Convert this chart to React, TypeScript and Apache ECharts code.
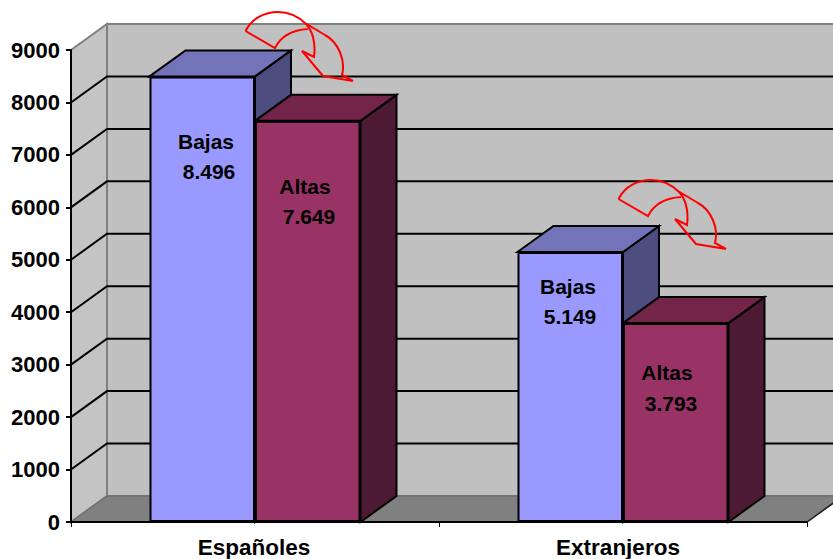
import React, { useEffect, useRef } from "react";
import * as echarts from "echarts";

const categories = ["Españoles", "Extranjeros"];
const bajasValues = [8496, 5149];
const altasValues = [7649, 3793];
const gridValues = [1000, 2000, 3000, 4000, 5000, 6000, 7000, 8000];
const seriesNames = ["Bajas", "Altas"];

const FONT = '"Liberation Sans", Arial, sans-serif';
const DX = 36;
const DY = 26;
const BAR_W = 105.5;

const arrowPath =
  "M245.5 31 C252 18 265 12 278 12 C290 12 300 18 306 24 C312 30 316 42 314 57 L302 51 L323 76 L353 81 L342 75 C346 60 338 42 325 35 L305 23 M245.5 31 L275 48 C281 36 292 30 308 29";
echarts.graphic.registerShape("curvedArrow", echarts.graphic.extendPath(arrowPath, {}));

const fmt = (v: number) => {
  const s = String(v);
  return s.slice(0, -3) + "." + s.slice(-3);
};

function wallsRender(params: any, api: any) {
  const cs = params.coordSys;
  const x0 = cs.x;
  const x1 = cs.x + cs.width;
  const yb = cs.y + cs.height;
  const yt = cs.y;
  const edge = "#808080";
  return {
    type: "group",
    children: [
      {
        type: "polygon",
        shape: { points: [[x0 + DX, yt - DY], [x1 + DX, yt - DY], [x1 + DX, yb - DY], [x0 + DX, yb - DY]] },
        style: { fill: "#c0c0c0", stroke: edge, lineWidth: 2 },
      },
      {
        type: "polygon",
        shape: { points: [[x0, yt], [x0 + DX, yt - DY], [x0 + DX, yb - DY], [x0, yb]] },
        style: { fill: "#c4c4c4", stroke: edge, lineWidth: 2 },
      },
      {
        type: "polygon",
        shape: { points: [[x0, yb], [x0 + DX, yb - DY], [x1 + DX, yb - DY], [x1, yb]] },
        style: { fill: "#808080", stroke: "#707070", lineWidth: 1.5 },
      },
      {
        type: "line",
        shape: { x1: x1, y1: yb, x2: x1 + DX, y2: yb - DY },
        style: { stroke: "#222", lineWidth: 1.5 },
      },
    ],
  };
}

function gridRender(params: any, api: any) {
  const cs = params.coordSys;
  const y = api.coord([0, api.value(0)])[1];
  return {
    type: "polyline",
    shape: {
      points: [
        [cs.x, y],
        [cs.x + DX, y - DY],
        [cs.x + cs.width + DX, y - DY],
      ],
    },
    style: { fill: "none", stroke: "#000", lineWidth: 2 },
  };
}

const faceRender = (slot: number, topColor: string, sideColor: string) => (params: any, api: any) => {
  const i = api.value(0);
  const [cx, top] = api.coord([i, api.value(1)]);
  const base = api.coord([i, 0])[1];
  const left = cx + (slot - 1) * BAR_W;
  const right = left + BAR_W;
  const style = (fill: string) => ({ fill, stroke: "#000", lineWidth: 2 });
  return {
    type: "group",
    children: [
      {
        type: "polygon",
        shape: { points: [[right, top], [right + DX, top - DY], [right + DX, base - DY], [right, base]] },
        style: style(sideColor),
      },
      {
        type: "polygon",
        shape: { points: [[left, top], [left + DX, top - DY], [right + DX, top - DY], [right, top]] },
        style: style(topColor),
      },
    ],
  };
};

const labelSpots = [
  { name: 0, value: bajasValues[0], nx: 206, ny: 141, vx: 209, vy: 171 },
  { name: 1, value: altasValues[0], nx: 305, ny: 186, vx: 309, vy: 216 },
  { name: 0, value: bajasValues[1], nx: 568, ny: 286, vx: 570, vy: 316 },
  { name: 1, value: altasValues[1], nx: 667, ny: 372, vx: 671, vy: 403 },
];

const arrowOffsets = [
  [0, 0],
  [373, 168],
];

export default function App() {
  const ref = useRef<HTMLDivElement>(null);
  useEffect(() => {
    const chart = echarts.init(ref.current!, undefined, { renderer: "svg" });
    const textStyle = (text: string, x: number, y: number) => ({
      type: "text",
      x,
      y,
      z: 100,
      style: {
        text,
        fill: "#000",
        fontFamily: FONT,
        fontWeight: "bold",
        fontSize: 21,
        textAlign: "center",
        textVerticalAlign: "middle",
      },
    });
    const xLabelFont = { color: "#000", fontFamily: FONT, fontWeight: "bold", fontSize: 22.5 };
    chart.setOption({
      animation: false,
      backgroundColor: "#fff",
      grid: { left: 71, right: 26, top: 50, bottom: 37, containLabel: false },
      xAxis: {
        type: "category",
        data: categories,
        z: 10,
        axisLine: { lineStyle: { color: "#000", width: 2 } },
        axisTick: { show: true, length: 5, lineStyle: { color: "#000", width: 1 } },
        axisLabel: {
          ...xLabelFont,
          margin: 14,
          formatter: (v: string, i: number) => (i === 0 ? `{a|${v}}` : `{b|${v}}`),
          rich: {
            a: { ...xLabelFont, padding: [0, 2, 0, 0] },
            b: { ...xLabelFont, padding: [0, 10, 0, 0] },
          },
        },
        splitLine: { show: false },
      },
      yAxis: {
        type: "value",
        min: 0,
        max: 9000,
        interval: 1000,
        z: 10,
        axisLine: { show: true, lineStyle: { color: "#000", width: 2 } },
        axisTick: { show: true, length: 5, lineStyle: { color: "#000", width: 2 } },
        axisLabel: {
          color: "#000",
          fontFamily: FONT,
          fontWeight: "bold",
          fontSize: 22,
          margin: 11,
          formatter: (v: number) => String(v),
        },
        splitLine: { show: false },
      },
      series: [
        { type: "custom", name: "walls", z: 1, silent: true, renderItem: wallsRender, data: [0] },
        { type: "custom", name: "grid", z: 2, silent: true, renderItem: gridRender, data: gridValues.map((v) => [v]), encode: { y: 0 } },
        { type: "custom", name: "Bajas 3D", z: 3, silent: true, renderItem: faceRender(0, "#7373b9", "#4d4d80"), data: bajasValues.map((v, i) => [i, v]) },
        { type: "custom", name: "Altas 3D", z: 4, silent: true, renderItem: faceRender(1, "#722549", "#4d1a33"), data: altasValues.map((v, i) => [i, v]) },
        {
          type: "bar",
          name: seriesNames[0],
          z: 5,
          data: bajasValues,
          barWidth: BAR_W,
          barGap: 0,
          itemStyle: { color: "#9999ff", borderColor: "#000", borderWidth: 2 },
        },
        {
          type: "bar",
          name: seriesNames[1],
          z: 5,
          data: altasValues,
          barWidth: BAR_W,
          barGap: 0,
          itemStyle: { color: "#993366", borderColor: "#000", borderWidth: 2 },
        },
      ],
      graphic: [
        ...labelSpots.flatMap((s) => [
          textStyle(seriesNames[s.name], s.nx, s.ny),
          textStyle(fmt(s.value), s.vx, s.vy),
        ]),
        ...arrowOffsets.map(([x, y]) => ({
          type: "curvedArrow",
          x,
          y,
          z: 100,
          silent: true,
          style: { fill: "none", stroke: "#ff0000", lineWidth: 2 },
        })),
      ],
    });
    return () => chart.dispose();
  }, []);
  return <div ref={ref} style={{ position: "absolute", left: 0, top: 0, width: 833, height: 559 }} />;
}
